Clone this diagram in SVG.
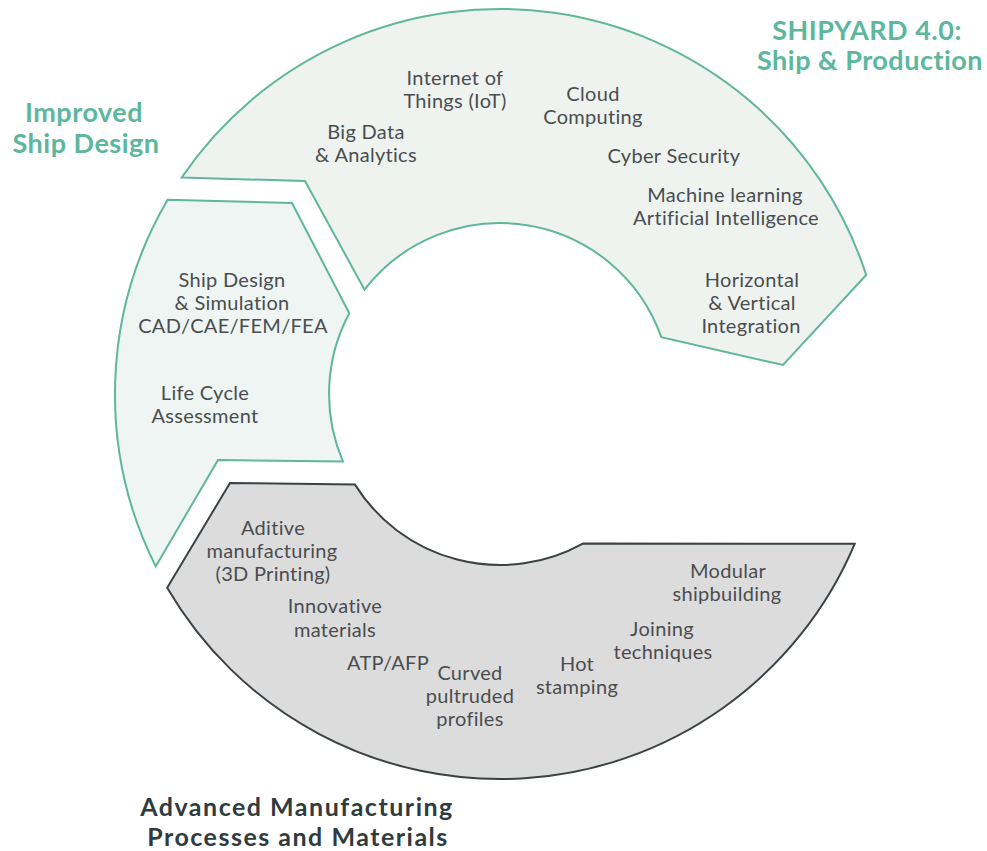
<svg xmlns="http://www.w3.org/2000/svg" width="987" height="851" viewBox="0 0 987 851">
<style>
.seg-g{stroke:#5fb69b;stroke-width:2;stroke-linejoin:miter}
.seg-k{stroke:#3b4245;stroke-width:2;stroke-linejoin:miter}
.lbl{font-family:Lato,"Open Sans","Liberation Sans",sans-serif;font-size:20px;letter-spacing:0.3px;fill:#4a4d4f;text-anchor:middle}
.ttl-g{font-family:Lato,"Open Sans","Liberation Sans",sans-serif;font-size:27px;letter-spacing:0.5px;font-weight:bold;fill:#5cb79c;text-anchor:middle}
.ttl-k{font-family:Lato,"Open Sans","Liberation Sans",sans-serif;font-size:25px;letter-spacing:1.5px;font-weight:bold;fill:#2f3b3f;text-anchor:middle}
</style>
<rect width="987" height="851" fill="#ffffff"/>
<g id="shipyard">
<path class="seg-g" fill="#eef3ef" d="M181.6 177.6 L305 181 L364.5 289.7 A171 171 0 0 1 661.3 337.2 L783 365 L866.2 275 A385 385 0 0 0 181.6 177.6 Z"/>
<text class="lbl"><tspan x="455" y="85">Internet of</tspan><tspan x="455" y="108">Things (IoT)</tspan></text>
<text class="lbl"><tspan x="366" y="139">Big Data</tspan><tspan x="366" y="162">&amp; Analytics</tspan></text>
<text class="lbl"><tspan x="593" y="101">Cloud</tspan><tspan x="593" y="124">Computing</tspan></text>
<text class="lbl" x="674" y="163">Cyber Security</text>
<text class="lbl"><tspan x="725" y="202">Machine learning</tspan><tspan x="726" y="225">Artificial Intelligence</tspan></text>
<text class="lbl"><tspan x="752" y="287">Horizontal</tspan><tspan x="752" y="310">&amp; Vertical</tspan><tspan x="751" y="333">Integration</tspan></text>
<text class="ttl-g"><tspan x="867" y="40">SHIPYARD 4.0:</tspan><tspan x="870" y="70">Ship &amp; Production</tspan></text>
</g>
<g id="ship-design">
<path class="seg-g" fill="#eef5f3" d="M167.6 199.8 L292 203 L349.3 313.2 A171 171 0 0 0 343 461.6 L218 460 L155.7 566.4 A385 385 0 0 1 167.6 199.8 Z"/>
<text class="lbl"><tspan x="232" y="287">Ship Design</tspan><tspan x="232" y="310">&amp; Simulation</tspan><tspan x="233" y="333">CAD/CAE/FEM/FEA</tspan></text>
<text class="lbl"><tspan x="205" y="400">Life Cycle</tspan><tspan x="205" y="423">Assessment</tspan></text>
<text class="ttl-g"><tspan x="84" y="122">Improved</tspan><tspan x="86" y="153">Ship Design</tspan></text>
</g>
<g id="manufacturing">
<path class="seg-k" fill="#dddcdd" d="M167.2 587.7 L230 483 L355 484.6 A171 171 0 0 0 582.9 543.6 L854.7 543.8 A385 385 0 0 1 167.2 587.7 Z"/>
<text class="lbl"><tspan x="273" y="535">Aditive</tspan><tspan x="272" y="558">manufacturing</tspan><tspan x="273" y="581">(3D Printing)</tspan></text>
<text class="lbl"><tspan x="335" y="613">Innovative</tspan><tspan x="335" y="637">materials</tspan></text>
<text class="lbl" x="388" y="670">ATP/AFP</text>
<text class="lbl"><tspan x="470" y="680">Curved</tspan><tspan x="470" y="703">pultruded</tspan><tspan x="470" y="726">profiles</tspan></text>
<text class="lbl"><tspan x="577" y="671">Hot</tspan><tspan x="577" y="694">stamping</tspan></text>
<text class="lbl"><tspan x="662" y="636">Joining</tspan><tspan x="663" y="659">techniques</tspan></text>
<text class="lbl"><tspan x="728" y="578">Modular</tspan><tspan x="727" y="601">shipbuilding</tspan></text>
<text class="ttl-k"><tspan x="297" y="816">Advanced Manufacturing</tspan><tspan x="298" y="846">Processes and Materials</tspan></text>
</g>
<g id="connectors"></g>
</svg>
